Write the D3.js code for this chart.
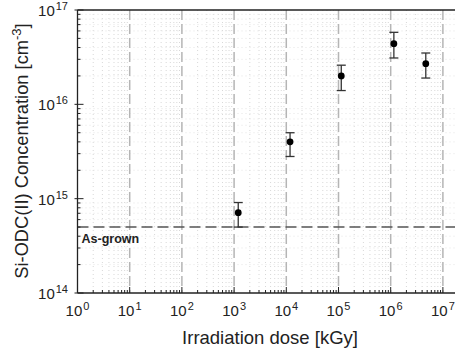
<!DOCTYPE html>
<html>
<head>
<meta charset="utf-8">
<script src="https://cdn.jsdelivr.net/npm/d3@7"></script>
<style>
  body { margin: 0; background: #fff; }
  svg text { font-family: "Liberation Sans", Arial, sans-serif; }
</style>
</head>
<body>
<div id="chart"></div>
<script>
// data
const doses = [1.2e3, 1.18e4, 1.13e5, 1.15e6, 4.7e6]
const conc = [7.1e14, 4.0e15, 2.0e16, 4.4e16, 2.7e16]
const errLow = [5.0e14, 2.8e15, 1.4e16, 3.1e16, 1.9e16]
const errHigh = [9.1e14, 5.0e15, 2.6e16, 5.8e16, 3.5e16]
const asGrown = 5e14
const xExponents = [0, 1, 2, 3, 4, 5, 6, 7]
const yExponents = [14, 15, 16, 17]

const width = 455
const height = 357
const margin = { top: 10, right: 0, bottom: 64, left: 77.5 }

const svg = d3.select("#chart")
    .append("svg")
    .attr("width", width)
    .attr("height", height)

const x = d3.scaleLog()
    .domain([1, Math.pow(10, 7.3)])
    .range([margin.left, margin.left + 7.3 * 52.2])

const y = d3.scaleLog()
    .domain([1e14, 1e17])
    .range([293, margin.top])

// minor values
const xMinor = []
for (let e = 0; e < 8; e++) for (let m = 2; m <= 9; m++) {
    const v = m * Math.pow(10, e)
    if (v <= x.domain()[1]) xMinor.push(v)
}
const yMinor = []
for (let e = 14; e < 17; e++) for (let m = 2; m <= 9; m++) yMinor.push(m * Math.pow(10, e))

const grid = svg.append("g")

// dotted minor grid
grid.selectAll(".vminor")
    .data(xMinor)
    .enter()
    .append("line")
    .attr("x1", d => x(d)).attr("x2", d => x(d))
    .attr("y1", y(1e17)).attr("y2", y(1e14))
    .attr("stroke", "#d8d8d8")
    .attr("stroke-width", 1)
    .attr("stroke-dasharray", "1,3")

grid.selectAll(".hminor")
    .data(yMinor)
    .enter()
    .append("line")
    .attr("x1", x(1)).attr("x2", width)
    .attr("y1", d => y(d)).attr("y2", d => y(d))
    .attr("stroke", "#e4e4e4")
    .attr("stroke-width", 1)
    .attr("stroke-dasharray", "1,3")

// dashed major vertical grid
grid.selectAll(".vmajor")
    .data(xExponents.slice(1))
    .enter()
    .append("line")
    .attr("x1", d => x(Math.pow(10, d))).attr("x2", d => x(Math.pow(10, d)))
    .attr("y1", y(1e17)).attr("y2", y(1e14))
    .attr("stroke", "#b5b5b5")
    .attr("stroke-width", 1.5)
    .attr("stroke-dasharray", "10,4")

// As-grown line
svg.append("line")
    .attr("x1", x(1)).attr("x2", width)
    .attr("y1", y(asGrown)).attr("y2", y(asGrown))
    .attr("stroke", "#555")
    .attr("stroke-width", 1.6)
    .attr("stroke-dasharray", "11,5")

svg.append("text")
    .attr("x", x(1) + 4)
    .attr("y", y(asGrown) + 16)
    .attr("font-size", 12.5)
    .attr("font-weight", "bold")
    .attr("fill", "#222")
    .text("As-grown")

// axes lines
svg.append("line")
    .attr("x1", x(1)).attr("x2", width)
    .attr("y1", y(1e14)).attr("y2", y(1e14))
    .attr("stroke", "#222").attr("stroke-width", 1.3)
svg.append("line")
    .attr("x1", x(1)).attr("x2", width)
    .attr("y1", y(1e17)).attr("y2", y(1e17))
    .attr("stroke", "#222").attr("stroke-width", 1.3)
svg.append("line")
    .attr("x1", x(1)).attr("x2", x(1))
    .attr("y1", y(1e17)).attr("y2", y(1e14))
    .attr("stroke", "#222").attr("stroke-width", 1.3)

// ticks (inside)
svg.selectAll(".xtick")
    .data(xMinor)
    .enter()
    .append("line")
    .attr("x1", d => x(d)).attr("x2", d => x(d))
    .attr("y1", y(1e14)).attr("y2", y(1e14) - 3)
    .attr("stroke", "#222")
svg.selectAll(".xmaj")
    .data(xExponents)
    .enter()
    .append("line")
    .attr("x1", d => x(Math.pow(10, d))).attr("x2", d => x(Math.pow(10, d)))
    .attr("y1", y(1e14)).attr("y2", y(1e14) - 6)
    .attr("stroke", "#222")
svg.selectAll(".ytick")
    .data(yMinor)
    .enter()
    .append("line")
    .attr("x1", x(1)).attr("x2", x(1) + 3)
    .attr("y1", d => y(d)).attr("y2", d => y(d))
    .attr("stroke", "#222")
svg.selectAll(".ymaj")
    .data(yExponents)
    .enter()
    .append("line")
    .attr("x1", x(1) - 3).attr("x2", x(1) + 6)
    .attr("y1", d => y(Math.pow(10, d))).attr("y2", d => y(Math.pow(10, d)))
    .attr("stroke", "#222")

// tick labels
const xl = svg.selectAll(".xlab")
    .data(xExponents)
    .enter()
    .append("text")
    .attr("x", d => x(Math.pow(10, d)))
    .attr("y", y(1e14) + 23)
    .attr("text-anchor", "middle")
    .attr("font-size", 15)
    .attr("fill", "#222")
xl.append("tspan").text("10")
xl.append("tspan").attr("dy", -6).attr("dx", 1).attr("font-size", 11).text(d => d)

const yl = svg.selectAll(".ylab")
    .data(yExponents)
    .enter()
    .append("text")
    .attr("x", 68)
    .attr("y", d => y(Math.pow(10, d)) + 6)
    .attr("text-anchor", "end")
    .attr("font-size", 15)
    .attr("fill", "#222")
yl.append("tspan").text("10")
yl.append("tspan").attr("dy", -6).attr("dx", 1).attr("font-size", 11).text(d => d)

// axis titles
svg.append("text")
    .attr("x", 270)
    .attr("y", 344)
    .attr("text-anchor", "middle")
    .attr("font-size", 18.5)
    .attr("fill", "#222")
    .text("Irradiation dose [kGy]")

const yt = svg.append("text")
    .attr("transform", "translate(28,151) rotate(-90)")
    .attr("text-anchor", "middle")
    .attr("font-size", 18.3)
    .attr("fill", "#222")
yt.append("tspan").text("Si-ODC(II) Concentration [cm")
yt.append("tspan").attr("dy", -7).attr("font-size", 13).text("-3")
yt.append("tspan").attr("dy", 7).text("]")

// error bars and points
const pts = doses.map((d, i) => ({ x: d, y: conc[i], lo: errLow[i], hi: errHigh[i] }))
const eb = svg.append("g").attr("stroke", "#333").attr("stroke-width", 1.3)
eb.selectAll(".ev")
    .data(pts).enter().append("line")
    .attr("x1", d => x(d.x)).attr("x2", d => x(d.x))
    .attr("y1", d => y(d.lo)).attr("y2", d => y(d.hi))
eb.selectAll(".et")
    .data(pts).enter().append("line")
    .attr("x1", d => x(d.x) - 4.5).attr("x2", d => x(d.x) + 4.5)
    .attr("y1", d => y(d.hi)).attr("y2", d => y(d.hi))
eb.selectAll(".eb")
    .data(pts).enter().append("line")
    .attr("x1", d => x(d.x) - 4.5).attr("x2", d => x(d.x) + 4.5)
    .attr("y1", d => y(d.lo)).attr("y2", d => y(d.lo))

svg.selectAll(".pt")
    .data(pts).enter().append("circle")
    .attr("cx", d => x(d.x))
    .attr("cy", d => y(d.y))
    .attr("r", 3.4)
    .attr("fill", "#000")
</script>
</body>
</html>
